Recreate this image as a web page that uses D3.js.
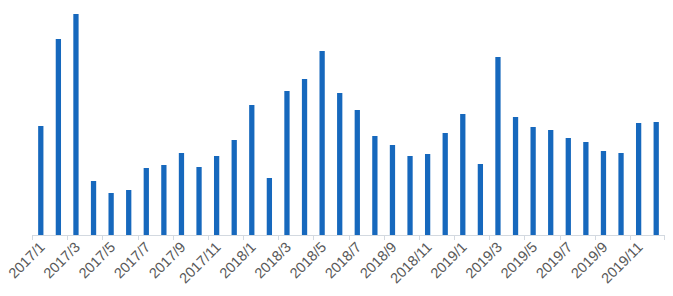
<!DOCTYPE html>
<html>
<head>
<meta charset="utf-8">
<script src="https://cdn.jsdelivr.net/npm/d3@7"></script>
<style>
  body { margin: 0; background: #fff; }
  svg { display: block; }
</style>
</head>
<body>
<svg id="chart"></svg>
<script>
const width = 673, height = 296;
const margin = { top: 0, right: 8, bottom: 61, left: 32 };

const years = [2017, 2018, 2019];
const months = years.flatMap(y => d3.range(1, 13).map(m => `${y}/${m}`));
const values = [
  109, 196, 221, 54, 42, 45, 67, 70, 82, 68, 79, 95,
  130, 57, 144, 156, 184, 142, 125, 99, 90, 79, 81, 102,
  121, 71, 178, 118, 108, 105, 97, 93, 84, 82, 112, 113
];
const tickLabels = months.filter((d, i) => i % 2 === 0);

const innerHeight = height - margin.top - margin.bottom;

const svg = d3.select("#chart").attr("width", width).attr("height", height);

const x = d3.scaleBand()
  .domain(months)
  .range([margin.left, width - margin.right])
  .paddingInner(0.7)
  .paddingOuter(0.35);

const y = d3.scaleLinear()
  .domain([0, innerHeight])
  .range([margin.top + innerHeight, margin.top]);

svg.append("g")
  .selectAll("rect")
  .data(values)
  .join("rect")
  .attr("x", (d, i) => x(months[i]))
  .attr("y", d => y(d))
  .attr("width", x.bandwidth())
  .attr("height", d => y(0) - y(d))
  .attr("fill", "#1668bd");

// axis line + boundary ticks every 2 months
const base = y(0);
const ax = svg.append("g");
ax.append("line")
  .attr("x1", margin.left).attr("x2", width - margin.right)
  .attr("y1", base + 0.5).attr("y2", base + 0.5)
  .attr("stroke", "#d3d9e0");
const step = x.step();
const tickX = d => d === "end" ? width - margin.right - 0.5 : Math.round(x(d) - step * 0.35) + 0.5;
ax.selectAll(".tick")
  .data(tickLabels.concat(["end"]))
  .join("line")
  .attr("class", "tick")
  .attr("x1", tickX)
  .attr("x2", tickX)
  .attr("y1", base).attr("y2", base + 5)
  .attr("stroke", "#d3d9e0");

svg.append("g")
  .selectAll("text")
  .data(tickLabels)
  .join("text")
  .attr("transform", d => `translate(${x(d) + x.bandwidth() / 2 + 5},${base + 13}) rotate(-45)`)
  .attr("text-anchor", "end")
  .attr("font-family", "Liberation Sans, Arial, sans-serif")
  .attr("font-size", 14.5)
  .attr("fill", "#595959")
  .text(d => d);
</script>
</body>
</html>
